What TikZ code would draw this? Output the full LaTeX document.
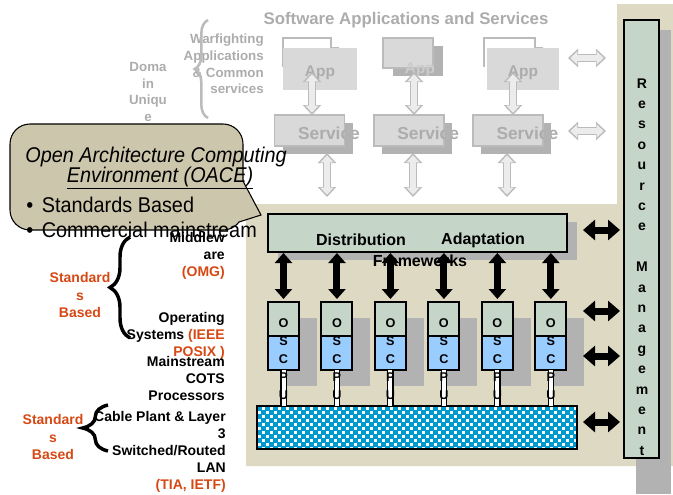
\documentclass[tikz,border=0pt]{standalone}
\usepackage{fontspec}
\setmainfont{Liberation Sans}
\newfontfamily\narrowfont[FakeStretch=0.93]{Liberation Sans}
\usetikzlibrary{positioning, arrows.meta, shadows, decorations.pathreplacing}

\definecolor{beige}{RGB}{221,217,195}
\definecolor{boxgreen}{RGB}{197,214,200}
\definecolor{boxblue}{RGB}{153,204,255}
\definecolor{shadowgray}{RGB}{178,178,178}
\definecolor{lanblue}{RGB}{0,153,204}
\definecolor{fadefill}{RGB}{217,217,217}
\definecolor{fadeline}{RGB}{187,187,187}
\definecolor{fadetext}{RGB}{172,172,172}
\definecolor{fadelight}{RGB}{204,204,204}
\definecolor{fadearrow}{RGB}{236,236,236}
\definecolor{calloutfill}{RGB}{204,199,172}
\definecolor{stdorange}{RGB}{214,72,20}
\definecolor{titlenavy}{RGB}{10,20,120}

\begin{document}
\begin{tikzpicture}[x=0.75pt, y=-0.75pt, node distance=40.1pt, on grid]
    \tikzset{
        box/.style={draw, line width=1.5pt, inner sep=0pt, outer sep=0pt},
        shad/.style 2 args={drop shadow={shadow xshift=#1, shadow yshift=#2, fill=shadowgray, opacity=1}},
        osbox/.style={box, fill=boxgreen, minimum width=23.25pt, minimum height=25.5pt, shad={13.5pt}{-12pt}},
        cpubox/.style={box, fill=boxblue, minimum width=23.25pt, minimum height=25.5pt, shad={13.5pt}{-12pt}},
        fbox/.style={fill=fadefill, draw=fadeline, line width=1.2pt, inner sep=0pt, outer sep=0pt},
        svc/.style={fbox, minimum width=52.5pt, minimum height=23.25pt, shad={6pt}{-6pt}},
        apptxt/.style={font=\fontsize{11.6}{13}\selectfont\bfseries, text=fadetext},
        fwtxt/.style={font=\fontsize{12}{14}\selectfont\bfseries, inner sep=0pt},
        osctxt/.style={font=\fontsize{9.5}{13.5}\selectfont\bfseries, align=center, inner sep=0pt},
        lbl/.style={font=\fontsize{10.5}{12.75}\selectfont\bfseries, align=right, anchor=east, inner sep=0pt},
        stdlbl/.style={font=\fontsize{10.5}{13}\selectfont\bfseries, text=stdorange, align=center, inner sep=0pt},
        fadelbl/.style={font=\fontsize{10}{12.5}\selectfont\bfseries, text=fadetext, inner sep=0pt},
        vblk/.style={line width=5.25pt, {Triangle[width=12.75pt,length=7.5pt]}-{Triangle[width=12.75pt,length=7.5pt]},
            shorten <=0.75pt, shorten >=2.25pt},
        hblk/.style={line width=5.25pt, {Triangle[width=15pt,length=9pt]}-{Triangle[width=15pt,length=9pt]},
            shorten >=3pt},
        hol/.style={draw=fadeline, line width=6.6pt, {Triangle[width=13.5pt,length=7.5pt]}-{Triangle[width=13.5pt,length=7.5pt]},
            postaction={draw=fadearrow, line width=4pt, shorten <=1.7pt, shorten >=1.7pt,
                {Triangle[width=9.6pt,length=5.3pt]}-{Triangle[width=9.6pt,length=5.3pt]}}},
        cable/.style={draw=black, line width=0.9pt, double=white, double distance=3pt},
        brc/.style={decorate, decoration={brace, amplitude=#1}, line width=2.6pt},
        bubtxt/.style={font=\narrowfont\fontsize{16}{19}\selectfont, inner sep=0pt},
    }

    \useasboundingbox (0,0) rectangle (673,494);
    \clip (0,0) rectangle (673,494);

    % backdrop of the lower layers
    \fill[beige] (246,204) -- (617,204) -- (617,4) -- (673,4) -- (673,466) -- (246,466) -- cycle;
    \node[font=\fontsize{30}{30}\selectfont\bfseries, text=titlenavy, anchor=base, inner sep=0pt] (ttl) at (373,-14) {y};

    % resource management column
    \fill[shadowgray] (636,30) rectangle (671,494);
    \node[box, fill=boxgreen, minimum width=26.25pt, minimum height=328.5pt] (rm) at (641.5,239) {};
    \node[font=\fontsize{10.5}{15.3}\selectfont\bfseries, align=center, inner sep=0pt] (rmt) at (642,267)
        {R\\e\\s\\o\\u\\r\\c\\e\\~\\M\\a\\n\\a\\g\\e\\m\\e\\n\\t};

    % faded software layer
    \node[font=\fontsize{12.6}{14}\selectfont\bfseries, text=fadetext, inner sep=0pt] (swt) at (406,20)
        {Software Applications and Services};

    \draw[fadeline, line width=1.2pt] (283,67) -- (283,38) -- (331,38) -- (331,48) -- (339,48);
    \draw[fadeline, line width=1.2pt] (484,67) -- (484,38) -- (535,38) -- (535,48) -- (543,48);
    \node[fill=fadefill, minimum width=55.5pt, minimum height=31.5pt, inner sep=0pt, text height=11.3pt, text depth=0pt, apptxt] (a1) at (320,69) {App};
    \node[fbox, minimum width=37.5pt, minimum height=22.5pt, shad={7.5pt}{-6pt}] (a2) at (408,53) {};
    \node[apptxt, text=fadelight, inner sep=0pt] (a2t) at (420,70) {App};
    \node[fill=fadefill, minimum width=54pt, minimum height=31.5pt, inner sep=0pt, text height=11.3pt, text depth=0pt, apptxt] (a3) at (523,69) {App};

    \node[svc] (s1) at (309.5,130.5) {};
    \node[svc, right=74.4pt of s1] (s2) {};
    \node[svc, right=74.4pt of s2] (s3) {};
    \foreach \i in {1,2,3} {
        \node[font=\fontsize{13}{15}\selectfont\bfseries, text=fadetext, inner sep=0pt] (t\i)
            at ([xshift=14.6pt,yshift=-1.9pt]s\i.center) {Service};
        \fill[shadowgray] ([xshift=0.6pt,yshift=-6pt]s\i.north east) rectangle ([xshift=6pt,yshift=-6pt]s\i.south east);
    }

    \foreach \x [count=\i] in {312,414,513} {
        \coordinate (u\i) at (\x,72);
        \draw[hol] (u\i) -- (u\i |- s\i.north);
    }
    \foreach \x [count=\i] in {327,413,507} {
        \coordinate (e\i) at (\x,153);
        \coordinate (d\i) at (\x,197);
        \draw[hol] (e\i) -- (d\i);
    }
    \coordinate (h1) at (568,58);
    \coordinate (h1e) at (606,58);
    \coordinate (h2) at (568,131);
    \coordinate (h2e) at (606,131);
    \draw[hol] (h1) -- (h1e);
    \draw[hol] (h2) -- (h2e);

    \node[fadelbl, align=right, anchor=east] (war) at (264,64)
        {Warfighting\\Applications\\\& Common\\services};
    \node[fadelbl, align=center] (dom) at (148,92) {Doma\\in\\Uniqu\\e};
    \draw[brc=10pt, draw=fadeline, line width=1.9pt] (208,118) -- (208,20);

    % frameworks
    \node[box, fill=boxgreen, minimum width=224.25pt, minimum height=28.5pt, shad={7.5pt}{-6pt}] (fw) at (417.5,233) {};
    \node[fwtxt] (dist) at (361,240) {Distribution};
    \node[fwtxt] (adap) at (483,240) {Adaptation};
    \node[fwtxt] (frm) at (420,261) {Frameworks};

    % processor nodes
    \node[osbox] (os1) at (283.5,319) {};
    \foreach \i [evaluate=\i as \j using int(\i+1)] in {1,...,5}
        \node[osbox, right=of os\i] (os\j) {};
    \foreach \i in {1,...,6}
        \node[cpubox, below=25.5pt of os\i] (cpu\i) {};

    % LAN bar
    \node[box, fill=white, line width=1.6pt, minimum width=240pt, minimum height=32.25pt] (lan) at (417,427.5) {};
    \begin{scope}
        \clip (lan.south west) rectangle (lan.north east);
        \foreach \r in {0,...,10}
            \foreach \c in {0,2,...,78} {
                \pgfmathsetmacro{\cx}{257+\c*4+mod(\r,2)*4}
                \fill[lanblue] (\cx,406+\r*4) rectangle ++(4.6,4.6);
            }
    \end{scope}
    \draw[line width=1.6pt] (lan.south west) rectangle (lan.north east);

    \foreach \i in {1,...,6} {
        \draw[cable] (cpu\i.south) -- (cpu\i.south |- lan.north);
        \node[osctxt] (l\i) at ([yshift=-4.5pt]cpu\i.center) {O\\S\\C\\P\\U};
        \draw[vblk] (os\i.north |- fw.south) -- (os\i.north);
    }

    \foreach \y [count=\i] in {230,311,356,422} {
        \coordinate (r\i) at (583,\y);
        \draw[hblk] (r\i) -- (rm.west |- r\i);
    }

    % standards labels on the left
    \node[lbl] (mw) at (225,255.5) {Middlew\\are\\{\color{stdorange}(OMG)}};
    \node[lbl] (ops) at (225,336) {Operating\\Systems {\color{stdorange}(IEEE}\\{\color{stdorange}POSIX )}};
    \node[lbl] (cots) at (225,378) {Mainstream\\COTS\\Processors};
    \node[lbl] (net) at (226,452) {Cable Plant \& Layer\\3\\Switched/Routed\\LAN\\{\color{stdorange}(TIA, IETF)}};
    \node[stdlbl] (std1) at (80,295) {Standard\\s\\Based};
    \node[stdlbl] (std2) at (53,437) {Standard\\s\\Based};
    \draw[brc=15pt] (130,338) -- (130,237);
    \draw[brc=19pt] (108,451) -- (108,405);

    % callout
    \filldraw[fill=calloutfill, draw=black, line width=0.8pt, rounded corners=15pt] (10,124) rectangle (243,230);
    \fill[calloutfill] (236,182) -- (243.5,182) -- (261,215) -- (239,222) -- (229,206) -- cycle;
    \draw[line width=0.8pt] (243.5,182) -- (261,215) -- (239,222);
    \node[bubtxt, font=\narrowfont\itshape\fontsize{16}{19}\selectfont, anchor=base] (oa1) at (156,162) {Open Architecture Computing};
    \node[bubtxt, font=\narrowfont\itshape\fontsize{16}{19}\selectfont, anchor=base] (oa2) at (160,182) {\underline{Environment (OACE)}};
    \node[bubtxt, anchor=base west] (bl1) at (26,212) {\textbullet\hspace{6.5pt}Standards Based};
    \node[bubtxt, anchor=base west] (bl2) at (26,237) {\textbullet\hspace{6.5pt}Commercial mainstream};
\end{tikzpicture}
\end{document}
